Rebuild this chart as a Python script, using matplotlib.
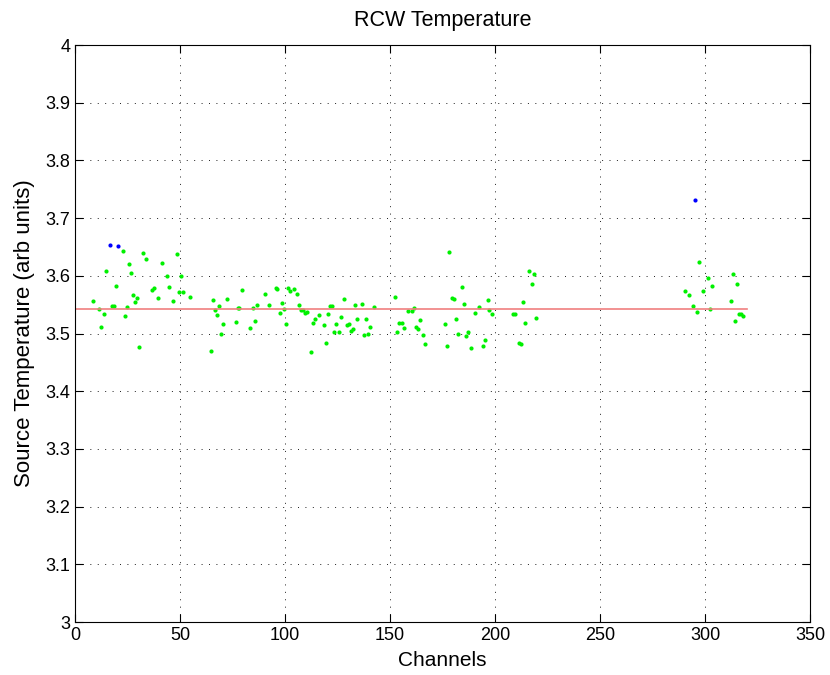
#Plot da temperatura das fontes por canal (RCW)

#imports
import matplotlib.pyplot as plt

# =============================================================================
# Dados
# =============================================================================
canais = [8.6, 11.6, 12.5, 13.6, 14.6, 17.8, 18.6, 19.5, 22.7, 23.7, 24.6, 25.7,
          26.7, 27.6, 28.6, 29.7, 30.6, 32.5, 33.7, 36.7, 37.6, 39.5, 41.6, 43.7,
          44.6, 46.5, 48.6, 49.7, 50.5, 51.6, 54.6,
          64.6, 65.6, 66.7, 67.5, 68.6, 69.5, 70.5, 72.5, 76.5, 77.6, 78.0, 79.5,
          83.5, 84.6, 85.6, 86.5, 90.5, 92.5, 95.6, 96.3, 97.5, 98.4, 99.5, 100.3,
          101.4, 102.5, 104.4, 105.6, 106.5, 107.6, 108.4, 109.4, 110.3, 112.4,
          113.5, 114.4, 116.3, 118.4, 119.4, 120.5, 121.3, 122.2, 123.5, 124.4,
          125.6, 126.5, 128.3, 129.7, 130.3, 131.4, 132.5, 133.5, 134.4, 136.5,
          137.5, 138.4, 139.5, 140.3, 142.5,
          152.5, 153.5, 154.4, 155.6, 156.5, 158.6, 160.5, 161.4, 162.5, 163.3,
          164.4, 165.6, 166.5, 176.3, 177.3, 178.1, 179.4, 180.5, 181.4, 182.5,
          184.3, 185.4, 186.3, 187.3, 188.4, 190.3, 192.4, 194.4, 195.4, 196.5,
          197.3, 198.4, 208.6, 209.4, 211.3, 212.4, 213.3, 214.3, 216.3, 217.5,
          218.4, 219.4,
          290.3, 292.2, 294.1, 296.0, 297.3, 299.2, 301.3, 302.2, 303.2, 312.2,
          313.2, 314.1, 315.2, 316.2, 317.1, 318.3]
temps = [3.556, 3.542, 3.512, 3.534, 3.609, 3.548, 3.548, 3.583, 3.643, 3.531, 3.546, 3.620,
         3.605, 3.567, 3.555, 3.562, 3.476, 3.639, 3.630, 3.575, 3.579, 3.562, 3.623, 3.600,
         3.581, 3.556, 3.638, 3.572, 3.599, 3.572, 3.563,
         3.470, 3.558, 3.541, 3.532, 3.547, 3.499, 3.517, 3.560, 3.520, 3.545, 3.545, 3.575,
         3.510, 3.544, 3.522, 3.550, 3.568, 3.549, 3.579, 3.577, 3.536, 3.553, 3.542, 3.517,
         3.579, 3.574, 3.577, 3.568, 3.549, 3.541, 3.541, 3.535, 3.537, 3.468,
         3.519, 3.525, 3.532, 3.515, 3.484, 3.534, 3.548, 3.548, 3.502, 3.516,
         3.503, 3.529, 3.560, 3.515, 3.517, 3.505, 3.508, 3.550, 3.526, 3.552,
         3.497, 3.525, 3.499, 3.512, 3.546,
         3.563, 3.502, 3.519, 3.518, 3.509, 3.539, 3.539, 3.545, 3.512, 3.508,
         3.523, 3.497, 3.481, 3.516, 3.478, 3.641, 3.561, 3.560, 3.526, 3.500,
         3.581, 3.551, 3.496, 3.502, 3.475, 3.536, 3.546, 3.478, 3.488, 3.558,
         3.540, 3.533, 3.533, 3.533, 3.484, 3.482, 3.554, 3.518, 3.609, 3.586,
         3.603, 3.527,
         3.574, 3.567, 3.547, 3.537, 3.624, 3.574, 3.597, 3.543, 3.582, 3.556,
         3.604, 3.522, 3.585, 3.534, 3.534, 3.530]

#pontos fora (em azul)
canais_fora = [16.7, 20.6, 295.2]
temps_fora = [3.654, 3.652, 3.731]

#media
media = 3.543
media_x = [0, 320]

# =============================================================================
# Plot
# =============================================================================
plt.rcParams['font.family'] = ['Liberation Sans', 'DejaVu Sans']
fig = plt.figure(figsize=(8.3, 6.75), dpi=100)
ax = fig.add_axes([0.0904, 0.0785, 0.8855, 0.8548])

ax.plot(canais, temps, 'o', color='#00f000', markersize=3.0, markeredgewidth=0)
ax.plot(canais_fora, temps_fora, 'o', color='#0000ff', markersize=3.0, markeredgewidth=0)
ax.plot(media_x, [media, media], color='#f07f7f', linewidth=1.2)

ax.set_xlim(0, 350)
ax.set_ylim(3, 4)
ax.set_xticks(range(0, 351, 50))
ax.set_yticks([3 + 0.1 * i for i in range(11)])
ax.set_yticklabels(['3', '3.1', '3.2', '3.3', '3.4', '3.5', '3.6', '3.7', '3.8', '3.9', '4'])
ax.grid(True, linestyle=(0, (1.2, 7.7)), color='black', linewidth=0.6)
ax.tick_params(direction='in', labelsize=13, top=True, right=True, length=6)
for s in ax.spines.values():
    s.set_linewidth(0.8)

ax.set_title('RCW Temperature', fontsize=15.5, pad=14)
ax.set_xlabel('Channels', fontsize=15, labelpad=5)
ax.set_ylabel('Source Temperature (arb units)', fontsize=16, labelpad=7)

fig.savefig('out.png', dpi=100)
